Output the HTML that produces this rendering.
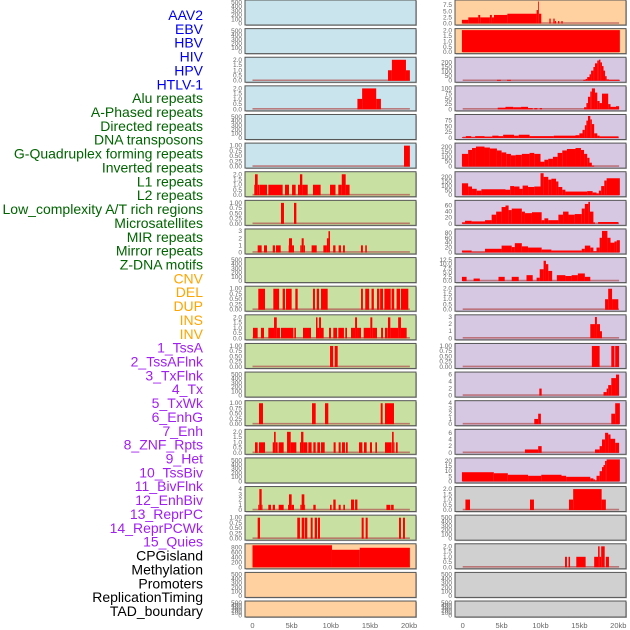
<!DOCTYPE html>
<html><head><meta charset="utf-8">
<style>
html,body{margin:0;padding:0;background:#fff;width:630px;height:630px;overflow:hidden}
svg{display:block}
.lab{font-family:"Liberation Sans",sans-serif;font-size:14px}
.tk{font-family:"Liberation Sans",sans-serif;font-size:6.5px;fill:#666}
.ax{font-family:"Liberation Sans",sans-serif;font-size:7.5px;fill:#666}
</style></head>
<body>
<svg id="chart" width="630" height="630" viewBox="0 0 630 630">
<g id="labels"></g>
<g id="panels"></g>
<g id="xaxis"></g>
</svg>
<script>
const trackLabels = ["AAV2","EBV","HBV","HIV","HPV","HTLV-1","Alu repeats","A-Phased repeats","Directed repeats","DNA transposons","G-Quadruplex forming repeats","Inverted repeats","L1 repeats","L2 repeats","Low_complexity A/T rich regions","Microsatellites","MIR repeats","Mirror repeats","Z-DNA motifs","CNV","DEL","DUP","INS","INV","1_TssA","2_TssAFlnk","3_TxFlnk","4_Tx","5_TxWk","6_EnhG","7_Enh","8_ZNF_Rpts","9_Het","10_TssBiv","11_BivFlnk","12_EnhBiv","13_ReprPC","14_ReprPCWk","15_Quies","CPGisland","Methylation","Promoters","ReplicationTiming","TAD_boundary"];
const labelColors = ["#0000ee","#0000ee","#0000ee","#0000ee","#0000ee","#0000ee","#006400","#006400","#006400","#006400","#006400","#006400","#006400","#006400","#006400","#006400","#006400","#006400","#006400","#ffa500","#ffa500","#ffa500","#ffa500","#ffa500","#a020f0","#a020f0","#a020f0","#a020f0","#a020f0","#a020f0","#a020f0","#a020f0","#a020f0","#a020f0","#a020f0","#a020f0","#a020f0","#a020f0","#a020f0","#000","#000","#000","#000","#000"];
const panelBg = ["#c9e4ec","#c9e4ec","#c9e4ec","#c9e4ec","#c9e4ec","#c9e4ec","#c8e0a2","#c8e0a2","#c8e0a2","#c8e0a2","#c8e0a2","#c8e0a2","#c8e0a2","#c8e0a2","#c8e0a2","#c8e0a2","#c8e0a2","#c8e0a2","#c8e0a2","#ffd1a0","#ffd1a0","#ffd1a0","#ffd1a0","#ffd1a0","#d6c7e3","#d6c7e3","#d6c7e3","#d6c7e3","#d6c7e3","#d6c7e3","#d6c7e3","#d6c7e3","#d6c7e3","#d6c7e3","#d6c7e3","#d6c7e3","#d6c7e3","#d6c7e3","#d6c7e3","#d0d0d0","#d0d0d0","#d0d0d0","#d0d0d0","#d0d0d0"];
const E = [0,100,200,300,400,500];
const panelYmax = [520,520,2.1,2.1,520,1.05,2.1,1.05,3.1,520,1.05,2.1,1.05,520,1.05,2.1,520,4.2,1.05,880,520,520,
  9,2.05,240,105,95,225,240,72,90,13,2.1,3.1,1.05,6.3,4.2,6.6,21.5,2.1,520,2.1,520,520];
const panelTicks = [E,E,[0,0.5,1,1.5,2],[0,0.5,1,1.5,2],E,[0,0.25,0.5,0.75,1],[0,0.5,1,1.5,2],[0,0.25,0.5,0.75,1],[0,1,2,3],E,[0,0.25,0.5,0.75,1],[0,0.5,1,1.5,2],[0,0.25,0.5,0.75,1],E,[0,0.25,0.5,0.75,1],[0,0.5,1,1.5,2],E,[0,1,2,3,4],[0,0.25,0.5,0.75,1],[0,200,400,600,800],E,E,
  [0,2.5,5,7.5],[0,0.5,1,1.5,2],[0,50,100,150,200],[0,25,50,75,100],[0,25,50,75],[0,50,100,150,200],[0,50,100,150,200],[0,20,40,60],[0,20,40,60,80],[0,2.5,5,7.5,10,12.5],[0,0.5,1,1.5,2],[0,1,2,3],[0,0.25,0.5,0.75,1],[0,2,4,6],[0,1,2,3,4],[0,2,4,6],[0,5,10,15,20],[0,0.5,1,1.5,2],E,[0,0.5,1,1.5,2],E,E];
const tickDigits = [0,0,1,1,0,2,1,2,0,0,2,1,2,0,2,1,0,0,2,0,0,0, 1,1,0,0,0,0,0,0,0,1,1,0,2,0,0,0,0,1,0,1,0,0];
const panelSegs = [
 [],[],
 [[17.3,17.8,1],[17.8,19.6,2],[19.6,20.1,1]],
 [[13.4,14.0,1],[14.0,15.8,2],[15.8,16.4,1]],
 [],
 [[19.35,20.1,1]],
 [[0.23,0.32,1],[0.32,0.66,2],[0.66,0.83,1],[0.87,1.85,1],[2.02,3.85,1],[4.15,4.66,1],[5.05,5.51,1],[5.81,6.06,1],[6.06,6.36,2],[6.36,7.05,1],[7.72,8.7,1],[9.9,10.6,1],[10.96,11.4,1],[11.4,11.9,2],[11.9,12.4,1]],
 [[3.64,4.02,1],[5.3,5.6,1]],
 [[0.66,1.17,1],[1.47,1.85,1],[2.58,2.87,1],[3.0,3.6,1],[4.62,4.66,1],[4.66,5.05,2],[5.05,5.3,1],[6.1,6.28,1],[6.28,6.54,2],[6.54,6.7,1],[7.55,8.2,1],[9.05,9.5,1],[9.5,9.7,2],[9.7,9.9,3],[10.3,10.6,1],[11.0,11.3,1],[11.56,11.8,1],[13.85,14.1,1],[14.4,14.6,1]],
 [],
 [[0.74,1.6,1],[2.66,3.4,1],[3.85,4.15,1],[4.28,5.0,1],[5.47,5.77,1],[7.72,7.98,1],[8.2,8.5,1],[8.75,9.6,1],[13.86,14.1,1],[14.4,14.9,1],[15.2,15.5,1],[15.9,16.2,1],[16.3,16.67,1],[16.84,17.65,1],[17.77,18.1,1],[18.4,18.84,1],[18.96,19.9,1]],
 [[0.06,0.66,1],[1.08,1.47,1],[2.02,2.75,1],[2.75,3.1,2],[3.1,3.51,1],[3.64,5.22,1],[5.34,5.55,1],[6.45,7.47,1],[8.11,8.3,2],[8.3,8.5,1],[8.5,8.75,2],[8.75,9.09,1],[9.77,10.03,1],[10.32,10.79,1],[10.96,11.68,1],[11.85,12.07,1],[12.58,13.1,1],[13.1,13.35,2],[13.35,13.86,1],[14.2,15.05,1],[15.05,15.3,2],[15.3,15.9,1],[16.42,16.67,1],[16.92,17.26,1],[17.3,17.6,2],[17.6,18.6,1],[18.6,18.96,2],[18.96,19.69,1]],
 [[9.9,10.3,1],[10.5,10.88,1]],
 [],
 [[0.83,1.34,1],[7.6,8.07,1],[9.26,9.68,1],[16.37,16.62,1],[16.92,18.07,1]],
 [[0.32,0.66,1],[0.83,1.6,1],[2.58,2.75,1],[2.75,2.96,2],[2.96,3.21,1],[3.34,3.98,1],[4.41,4.88,2],[4.88,5.6,1],[6.06,6.2,1],[6.2,6.5,2],[6.5,7.0,1],[7.13,7.55,1],[7.77,8.07,1],[8.28,8.62,1],[8.75,9.22,1],[10.36,10.62,1],[11.0,11.26,1],[11.43,11.81,1],[11.94,12.16,1],[13.6,14.03,1],[14.24,14.58,1],[15.0,15.26,1],[15.69,15.9,1],[16.92,17.77,1],[17.82,18.03,2],[18.03,18.1,1],[18.32,18.54,1]],
 [],
 [[0.74,0.87,1],[0.87,1.17,4],[1.17,1.25,1],[2.02,2.36,1],[2.58,2.87,1],[3.34,3.98,1],[4.54,4.66,1],[4.66,5.0,3],[5.0,5.3,1],[6.11,6.28,1],[6.28,6.62,3],[6.62,6.7,1],[7.77,8.07,1],[9.9,10.11,1],[10.32,10.62,2],[11.0,11.26,1],[11.6,11.81,1],[12.58,12.97,2],[13.1,13.4,2],[17.1,17.6,1],[17.7,18.03,1]],
 [[0.66,0.96,1],[5.72,6.06,1],[6.28,6.62,1],[6.7,7.0,1],[7.43,7.68,1],[7.94,8.24,1],[8.36,8.62,1],[13.94,14.2,1],[14.45,14.71,1],[18.71,18.96,1],[19.22,19.47,1]],
 [[0,10.15,900],[10.15,13.7,700],[13.7,20.1,780]],
 [],[],
 [[-0.1,0.72,1.5],[0.72,2.0,2.5],[2.0,2.25,3.5],[2.25,3.5,2.5],[3.5,3.75,3.5],[3.75,4.02,2.5],[4.02,5.74,3.5],[5.74,9.5,4],[9.5,9.7,5.5],[9.7,9.8,9],[9.8,10.1,4],[11.14,11.31,2],[11.65,11.82,2],[11.85,12.0,1],[12.25,12.42,1],[12.68,12.85,1]],
 [[-0.1,20.2,2.05]],
 [[4.4,4.9,10],[5.7,6.2,10],[15.5,15.8,10],[15.8,16.0,20],[16.0,16.3,40],[16.3,16.5,70],[16.5,16.8,110],[16.8,17.0,150],[17.0,17.3,190],[17.3,17.5,220],[17.5,17.7,230],[17.7,17.9,200],[17.9,18.1,160],[18.1,18.3,110],[18.3,18.5,50],[18.5,18.8,15],[18.8,20.2,10]],
 [[4.5,5.5,8],[5.5,6.5,12],[6.5,7.5,10],[7.5,8.4,12],[8.4,9.0,6],[9.2,9.6,6],[9.9,10.2,6],[15.6,15.9,10],[15.9,16.1,30],[16.1,16.4,60],[16.4,16.6,85],[16.6,17.0,100],[17.0,17.3,80],[17.3,17.6,40],[17.6,17.9,30],[17.9,18.7,75],[18.7,19.0,25],[19.0,19.7,12],[19.7,20.1,15]],
 [[-0.1,0.4,3],[0.4,1.1,8],[1.1,1.6,3],[1.6,2.8,8],[2.8,3.8,6],[3.8,4.6,10],[4.6,5.2,8],[5.2,6.6,14],[6.6,7.2,10],[7.2,8.6,14],[8.6,11.7,8],[11.7,14.5,10],[14.5,15.0,12],[15.0,15.4,20],[15.4,15.7,35],[15.7,15.9,55],[15.9,16.1,75],[16.1,16.4,95],[16.4,16.6,80],[16.6,16.9,60],[16.9,17.3,20],[17.3,17.6,10],[17.6,20.0,7]],
 [[-0.1,0.7,130],[0.7,1.2,170],[1.2,1.7,190],[1.7,2.8,205],[2.8,3.5,195],[3.5,4.4,185],[4.4,5.0,165],[5.0,5.6,145],[5.6,6.2,130],[6.2,6.8,115],[6.8,7.6,120],[7.6,8.6,130],[8.6,9.2,140],[9.2,10.0,130],[10.0,10.5,50],[10.5,11.0,70],[11.0,11.6,80],[11.6,12.2,100],[12.2,12.8,140],[12.8,13.4,165],[13.4,14.5,180],[14.5,15.2,190],[15.2,15.6,170],[15.6,16.0,130],[16.0,16.3,90],[16.3,16.6,40],[16.6,16.9,10]],
 [[-0.1,0.7,130],[0.7,1.2,95],[1.2,1.8,70],[1.8,2.4,50],[2.4,5.5,65],[5.5,6.1,60],[6.1,6.6,100],[6.6,7.3,95],[7.3,7.7,70],[7.7,8.4,105],[8.4,9.2,90],[9.2,10.0,95],[10.0,10.4,240],[10.4,11.0,200],[11.0,11.4,170],[11.4,12.0,180],[12.0,12.3,150],[12.3,12.8,90],[12.8,13.2,60],[13.2,16.0,40],[16.0,16.7,45],[16.7,17.2,30],[17.2,17.5,20],[17.5,17.8,50],[17.8,18.2,100],[18.2,18.5,160],[18.5,20.2,185]],
 [[-0.1,0.3,5],[0.3,1.15,10],[1.15,2.87,8],[2.87,3.72,12],[3.72,4.3,30],[4.3,5.0,40],[5.0,5.5,55],[5.5,5.9,60],[5.9,6.3,45],[6.3,7.6,50],[7.6,8.0,40],[8.0,8.9,35],[8.9,10.15,38],[10.15,10.5,12],[10.5,11.0,18],[11.0,12.3,12],[12.3,12.9,30],[12.9,13.6,40],[13.6,14.4,30],[14.4,15.3,32],[15.3,15.7,50],[15.7,16.15,65],[16.15,16.36,75],[16.36,16.8,40],[16.8,17.0,5],[17.4,20.0,6]],
 [[-0.1,1.15,8],[1.15,2.87,3],[2.87,5.0,15],[5.0,6.3,28],[6.3,6.7,22],[6.7,7.6,38],[7.6,8.4,25],[8.4,10.15,20],[10.15,11.4,12],[11.4,15.3,8],[15.3,15.7,15],[15.7,16.4,28],[16.4,16.8,20],[16.8,17.2,5],[17.2,17.6,20],[17.6,17.9,60],[17.9,18.6,88],[18.6,19.0,60],[19.0,19.5,40],[19.5,19.8,45],[19.8,20.2,50]],
 [[-0.1,0.5,2.5],[1.4,2.2,1.5],[4.6,5.4,2.5],[6.3,7.2,2.5],[8.2,9.0,3.5],[9.5,9.9,2],[9.9,10.4,7],[10.4,10.7,12],[10.7,11.0,10],[11.0,11.5,6],[12.1,13.2,3.5],[13.2,14.0,3],[14.0,14.8,3.5],[14.8,15.7,4.5],[15.7,16.4,2.5]],
 [[18.3,18.7,1],[18.7,19.2,2],[19.2,20.0,1]],
 [[16.4,17.0,2],[17.0,17.25,3],[17.25,17.65,2],[17.65,17.9,1]],
 [[16.6,17.6,1],[19.1,19.5,1],[19.6,20.1,1]],
 [[9.85,10.15,2],[18.1,18.5,1],[18.5,18.7,2],[18.7,19.1,3],[19.1,19.7,5],[19.7,20.1,6]],
 [[9.2,9.7,1],[9.7,10.05,2],[19.1,19.6,2],[19.6,20.2,4]],
 [[8.0,9.7,1],[9.7,10.15,2],[17.0,17.6,1],[17.6,17.9,2],[17.9,18.3,4],[18.3,18.7,6],[18.7,19.0,5.5],[19.0,19.6,4.2],[19.6,20.1,3]],
 [[-0.1,4.0,9],[4.0,5.8,8],[5.8,8.4,6.5],[8.4,10.1,5.5],[10.1,12.7,6.5],[12.7,13.3,5.5],[13.3,16.4,4.5],[16.4,16.8,3],[16.8,17.0,2],[17.0,17.2,1],[17.2,17.6,5.5],[17.6,17.9,10],[17.9,18.1,14],[18.1,18.3,16],[18.3,18.5,20],[18.5,20.2,21.5]],
 [[0.35,0.94,1],[8.65,9.16,1],[13.66,14.2,1],[14.2,17.86,2],[17.86,18.4,1]],
 [],
 [[13.15,13.4,1],[13.6,13.8,1],[14.6,15.8,1],[16.9,17.4,1],[17.4,17.6,2],[17.6,17.8,1],[17.8,18.25,2],[18.4,18.8,1]],
 [],[]
];
const xTicks = [0,5,10,15,20];
const xTickLabels = ["0","5kb","10kb","15kb","20kb"];

const NS = "http://www.w3.org/2000/svg";
function mk(tag, attrs, parent){const e=document.createElementNS(NS,tag);for(const k in attrs)e.setAttribute(k,attrs[k]);parent.appendChild(e);return e;}
const pitch = 28.62;
function rowTop(r){return r*pitch;}
function rowH(r){return r===21?16:25;}
function colLeft(c){return c===0?245:455;}
function xScale(c,kb){return c===0?252.5+kb*7.83:462.7+kb*7.78;}
function yScale(r,ymax,v){const t=rowTop(r),h=rowH(r);const y0=t+h-1.5;return y0-(Math.min(v,ymax)/ymax)*(h-3);}
function slug(s){return s.toLowerCase().replace(/[^a-z0-9]+/g,'-').replace(/^-|-$/g,'');}

const gL=document.getElementById('labels');
trackLabels.forEach((name,i)=>{
  const t=mk('text',{x:203,y:15+i*13.86+5,'text-anchor':'end',class:'lab',fill:labelColors[i]},gL);
  t.textContent=name;
  
  
});

const gP=document.getElementById('panels');
for(let i=0;i<44;i++){
  const c=i<22?0:1, r=i%22;
  const x=colLeft(c), t=rowTop(r), h=rowH(r), w=171;
  const g=mk('g',{},gP);
  
  
  mk('rect',{x:x+1,y:t+1,width:w,height:h,fill:'#bbb'},g);
  mk('rect',{x:x,y:t,width:w,height:h,fill:panelBg[i],stroke:'#555','stroke-width':1},g);
  const ymax=panelYmax[i];
  const segs=panelSegs[i]||[];
  if(segs.length){
    const bl=mk('line',{x1:xScale(c,0),x2:xScale(c,20.1),y1:yScale(r,ymax,0)-0.5,y2:yScale(r,ymax,0)-0.5,stroke:'#b05050','stroke-width':1.6,'stroke-opacity':0.7},g);
    
    
  }
  segs.forEach((s,k)=>{
    const xa=xScale(c,s[0]), xb=xScale(c,s[1]);
    const yv=yScale(r,ymax,s[2]), y0=yScale(r,ymax,0);
    const b=mk('rect',{x:xa,y:yv,width:Math.max(0.8,xb-xa),height:Math.max(0,y0-yv),fill:'#ff0000'},g);
    
    
  });
  const ticks=panelTicks[i]||[];
  ticks.forEach(v=>{
    const tt=mk('text',{x:x-3,y:yScale(r,ymax,v)+2,'text-anchor':'end',class:'tk'},g);
    tt.textContent=v.toFixed(tickDigits[i]||0);
    
    
  });
}

const gX=document.getElementById('xaxis');
[0,1].forEach(c=>{
  xTicks.forEach((v,k)=>{
    const t=mk('text',{x:xScale(c,v),y:628,'text-anchor':'middle',class:'ax'},gX);
    t.textContent=xTickLabels[k];
    
    
  });
});
</script>
</body></html>
